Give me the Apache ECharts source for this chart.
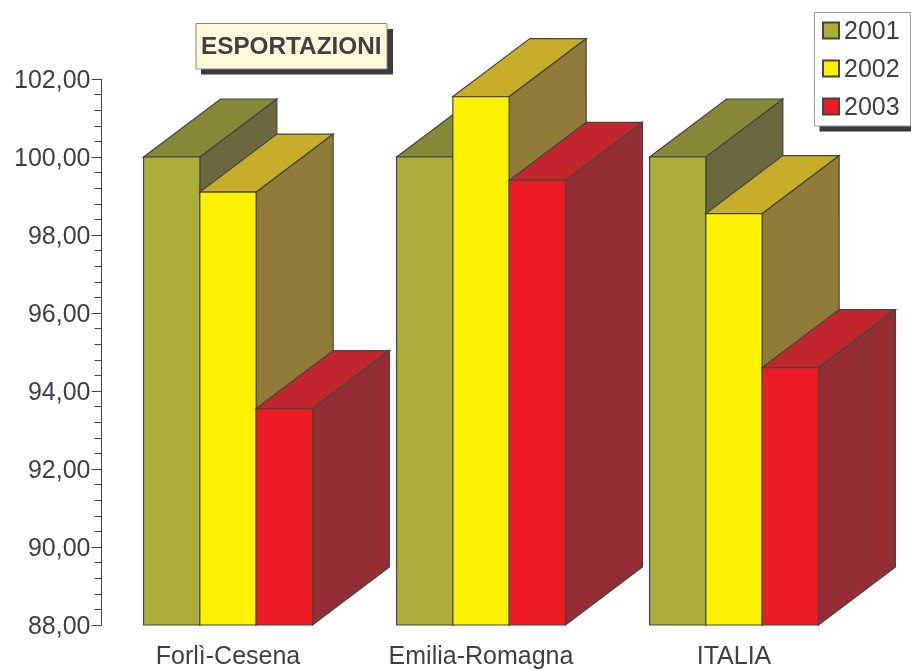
<!DOCTYPE html>
<html>
<head>
<meta charset="UTF-8">
<title>Esportazioni</title>
<script src="https://cdn.jsdelivr.net/npm/echarts@6/dist/echarts.min.js" type="text/javascript"></script>
<style type="text/css">
    html,body{
        height:100%;
        margin:0;
        background:#fff;
    }
</style>
</head>
<body>
<div id="container" style="width:911px;height:670px"></div>
<script type="text/javascript">
	var categories = ['Forlì-Cesena', 'Emilia-Romagna', 'ITALIA'];
	var years = ['2001', '2002', '2003'];
	var values2001 = [100, 100, 100];
	var values2002 = [99.1, 101.55, 98.55];
	var values2003 = [93.55, 99.4, 94.6];

	var textColor = '#3f3f44';
	var edgeColor = '#45453f';
	var shadowColor = '#3a3a3f';
	// front, top, side
	var colors2001 = ['#a8ae38', '#868838', '#6b673f'];
	var colors2002 = ['#fff200', '#c7ad28', '#917b38'];
	var colors2003 = ['#ed1c24', '#c1272d', '#942e34'];

	var depthX = 77, depthY = 58;

	// 3d looking bar, the offset is counted in bar widths from the group centre
	function bar3d(colors, offset) {
		return function(params, api) {
			var base = api.coord([api.value(0), 88]);
			var top = api.coord([api.value(0), api.value(1)]);
			var w = api.size([1, 0])[0] * 0.2225;
			var x0 = base[0] + (offset - 0.5) * w;
			var x1 = x0 + w;
			var y0 = base[1], y1 = top[1];
			function face(points, color) {
				return {
					type: 'polygon',
					shape: {points: points},
					style: {fill: color, stroke: edgeColor, lineWidth: 1.2}
				};
			}
			return {
				type: 'group',
				children: [
					face([[x1, y0], [x1 + depthX, y0 - depthY], [x1 + depthX, y1 - depthY], [x1, y1]], colors[2]),
					face([[x0, y1], [x0 + depthX, y1 - depthY], [x1 + depthX, y1 - depthY], [x1, y1]], colors[1]),
					face([[x0, y0], [x1, y0], [x1, y1], [x0, y1]], colors[0])
				]
			};
		};
	}

	function toData(list) {
		return list.map(function(v, i) { return [i, v]; });
	}

	function makeSeries(name, list, colors, offset) {
		return {
			name: name,
			type: 'custom',
			clip: false,
			renderItem: bar3d(colors, offset),
			encode: {x: 0, y: 1},
			itemStyle: {color: colors[0], borderColor: edgeColor, borderWidth: 1},
			data: toData(list)
		};
	}

	// box with a hard drop shadow, behind the title and the legend
	function shadowBox(x, y, w, h, fill, stroke) {
		return [
			{type: 'rect', z: -2, silent: true, shape: {x: x + 5, y: y + 5.5, width: w + 1, height: h}, style: {fill: shadowColor}},
			{type: 'rect', z: -1, silent: true, shape: {x: x, y: y, width: w, height: h}, style: {fill: fill, stroke: stroke, lineWidth: 1}}
		];
	}

	var chart = echarts.init(document.getElementById('container'));
	var option = {
		animation: false,
		backgroundColor: '#fff',
		textStyle: {fontFamily: 'Liberation Sans'},
		graphic: shadowBox(196, 23.5, 191, 45.5, '#fff8d8', '#8a8a80')
			.concat(shadowBox(814.5, 12.5, 96, 113.5, '#fff', '#999')),
		title: {
			text: 'ESPORTAZIONI',
			left: 201,
			top: 35,
			padding: 0,
			textStyle: {fontFamily: 'Liberation Sans', fontSize: 24.3, fontWeight: 'bold', color: textColor}
		},
		legend: {
			orient: 'vertical',
			left: 822,
			top: 19.6,
			padding: 0,
			itemGap: 12.9,
			itemWidth: 16,
			itemHeight: 16,
			icon: 'rect',
			data: years,
			formatter: function(name) { return '{t|' + name + '}'; },
			textStyle: {
				rich: {t: {fontFamily: 'Liberation Sans', fontSize: 25, color: textColor, padding: [3, 0, 0, 0]}}
			}
		},
		grid: {left: 101.5, top: 79, width: 759, height: 546},
		xAxis: {
			type: 'category',
			data: categories,
			axisLine: {show: false},
			axisTick: {show: false},
			axisLabel: {fontSize: 25, color: textColor, margin: 20}
		},
		yAxis: {
			type: 'value',
			min: 88,
			max: 102,
			interval: 2,
			axisLine: {show: true, lineStyle: {color: edgeColor}},
			axisTick: {show: true, length: 10, lineStyle: {color: edgeColor}},
			minorTick: {show: true, splitNumber: 5, length: 7, lineStyle: {color: edgeColor}},
			splitLine: {show: false},
			axisLabel: {
				margin: 11,
				formatter: function(v) { return '{v|' + v.toFixed(2).replace('.', ',') + '}'; },
				rich: {v: {fontFamily: 'Liberation Sans', fontSize: 25, color: textColor, padding: [4, 0, 0, 0]}}
			}
		},
		series: [
			makeSeries(years[0], values2001, colors2001, -1),
			makeSeries(years[1], values2002, colors2002, 0),
			makeSeries(years[2], values2003, colors2003, 1)
		]
	};
	chart.setOption(option);
</script>
</body>
</html>
